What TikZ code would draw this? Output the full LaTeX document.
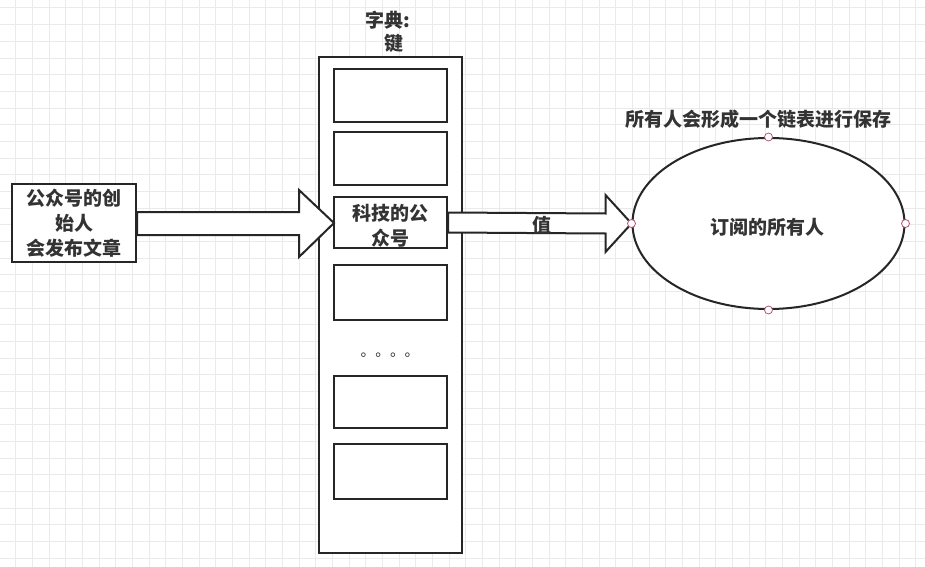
\documentclass[tikz,border=0pt]{standalone}
\usepackage{fontspec}
\setmainfont{Noto Sans CJK SC}
\usetikzlibrary{shapes.geometric,calc}
\definecolor{ink}{HTML}{262626}
\definecolor{txt}{HTML}{333333}
\definecolor{gridc}{HTML}{EAEAEA}
\definecolor{pin}{HTML}{B85470}
\begin{document}
\begin{tikzpicture}[x=0.75pt,y=-0.75pt,
  box/.style={draw=ink,line width=1.5pt,fill=white,inner sep=0pt,rectangle},
  lbl/.style={text=txt,font=\bfseries\fontsize{14.25}{18.75}\selectfont,align=center,inner sep=0pt},
  blockarrow/.style={draw=ink,line width=1.5pt,fill=white,line join=miter},
  port/.style={circle,draw=pin,fill=white,line width=0.6pt,inner sep=0pt,minimum size=6pt}]
\fill[white] (0,0) rectangle (925,567);
\useasboundingbox (0,0) rectangle (925,567);
% grid
\foreach \i in {0,...,56} \draw[gridc,line width=0.75pt] ({-1+\i*16.667},0) -- ({-1+\i*16.667},567);
\foreach \j in {0,...,34} \draw[gridc,line width=0.75pt] (0,{8+\j*16.667}) -- (925,{8+\j*16.667});
% dictionary column
\node[box,minimum width=107.25pt,minimum height=372pt] (dict) at (390.5,305) {};
\node[box,minimum width=84.75pt,minimum height=39.75pt] (k1) at (390.5,95.5) {};
\node[box,minimum width=84.75pt,minimum height=39.75pt] (k2) at (390.5,158.5) {};
\node[box,minimum width=84.75pt,minimum height=38.25pt] (k3) at (390.5,222.5) {};
\node[lbl] (k3t) at (390.5,225.5) {科技的公\\众号};
\node[box,minimum width=84.75pt,minimum height=41.25pt] (k4) at (390.5,292.5) {};
\node[box,minimum width=84.75pt,minimum height=39pt] (k5) at (390.5,402) {};
\node[box,minimum width=84.75pt,minimum height=41.25pt] (k6) at (390.5,471.5) {};
\node[text=txt,font=\fontsize{11}{11}\selectfont,inner sep=0pt] (dots) at (390,355) {。。。。};
\node[lbl] (dk) at (388,20) {字典:};
\node[lbl] (kk) at (394,43) {键};
% subscribers ellipse
\node[ellipse,draw=ink,line width=1.5pt,fill=white,minimum width=204pt,minimum height=128.25pt,inner sep=0pt] (subs) at (768.5,223.5) {};
\node[lbl] (subst) at (767,227) {订阅的所有人};
\node[lbl] (ttl) at (758.5,119) {所有人会形成一个链表进行保存};
% left block arrow
\coordinate (t1) at ($(k3.west)+(1,0.5)$);
\node[box,minimum width=93pt,minimum height=58.5pt] (src) at (74,223) {};
\node[lbl] (srct) at (74,223.5) {公众号的创\\始人\\会发布文章};
\draw[blockarrow] ($(src.east)+(0,-11)$) -- ($(t1)+(-35,-11)$) -- ($(t1)+(-35,-33)$) -- (t1) -- ($(t1)+(-35,34)$) -- ($(t1)+(-35,12)$) -- ($(src.east)+(0,12)$) -- cycle;
% right block arrow
\draw[blockarrow] ($(k3.east)+(0,-10)$) -- ($(subs.west)+(-26,-10)$) -- ($(subs.west)+(-26,-28.5)$) -- (subs.west) -- ($(subs.west)+(-26,28.5)$) -- ($(subs.west)+(-26,10)$) -- ($(k3.east)+(0,10)$) -- cycle;
\node[lbl] (val) at (542,225) {值};
% ports
\node[port] (pN) at (subs.north) {};
\node[port] (pS) at (subs.south) {};
\node[port] (pE) at (subs.east) {};
\node[port] (pW) at (subs.west) {};
\end{tikzpicture}
\end{document}
